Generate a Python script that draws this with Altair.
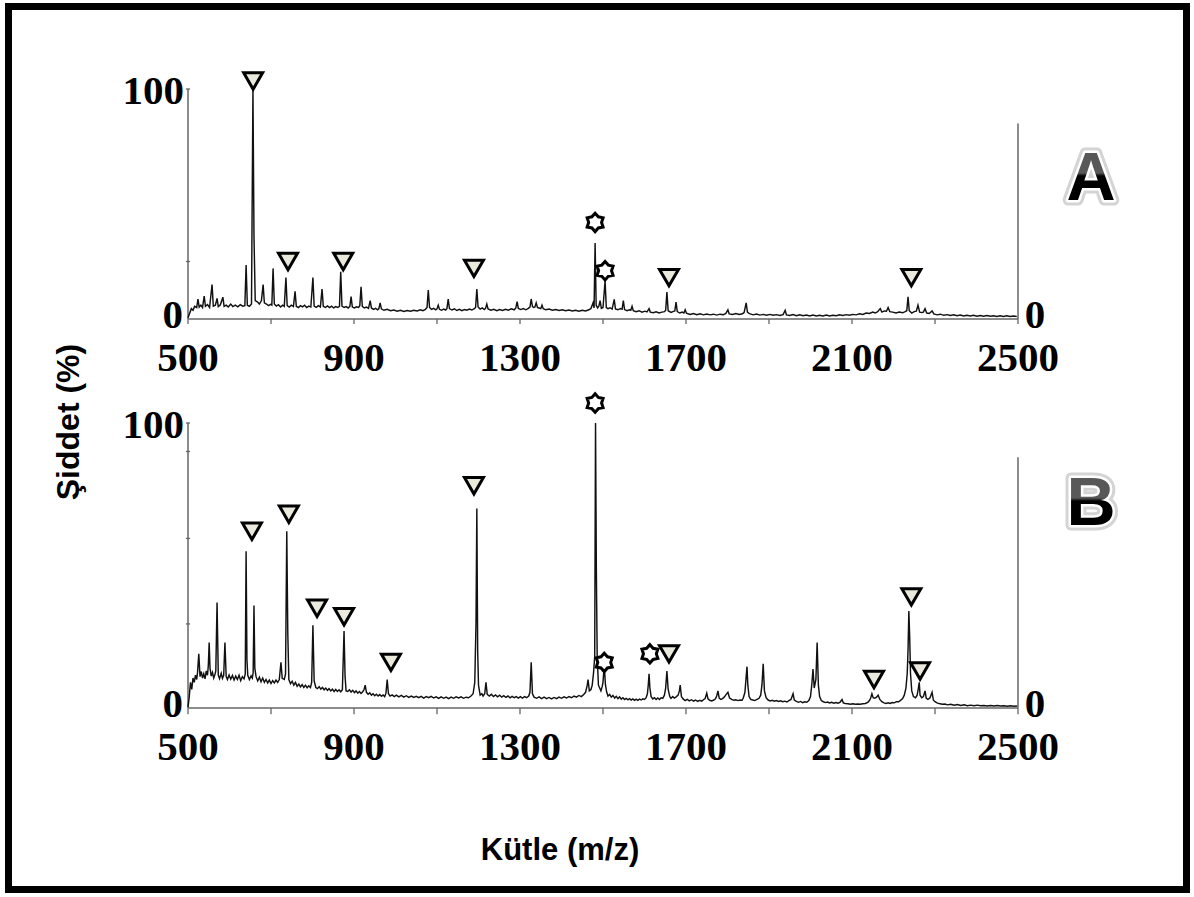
import altair as alt
import pandas as pd

# ---------------- data ----------------
# Spectrum A : (m/z, intensity %)
SPEC_A = [
    (500, 0.5), (504, 2.5), (508, 4.5), (512, 3.8), (516, 5.5), (521, 5), (524, 8.7), (527, 5.2),
    (531, 6), (535, 5), (539, 10), (542, 5.5), (547, 6.3), (552, 5), (558, 15), (561, 5.6),
    (566, 6), (570, 9), (573, 5.4), (578, 6.2), (584, 9.5), (587, 5.5), (592, 6), (597, 5.2),
    (603, 6.5), (608, 5.4), (614, 6), (620, 5.3), (626, 6.2), (632, 5.6), (637, 5.8), (640, 23.5),
    (643, 6), (648, 5.5), (653, 6.5), (656.5, 100), (657.5, 74), (659, 36), (662, 8), (667, 7.5),
    (672, 6.5), (677, 8), (681, 15), (684, 7), (689, 6.5), (694, 5.8), (699, 6.4), (702, 6),
    (705, 22), (708, 6.5), (713, 5.6), (718, 6.2), (723, 5.2), (728, 6), (732, 5.5), (736, 18),
    (739, 5.8), (744, 5.2), (749, 6), (754, 5.4), (758, 12), (761, 5.5), (766, 5), (771, 5.8),
    (776, 5.3), (781, 6), (786, 5), (791, 5.6), (796, 5.2), (801, 18), (804, 5.6), (809, 5.1),
    (814, 5.8), (819, 5.2), (823, 13), (826, 5.5), (831, 5), (836, 5.7), (841, 5), (846, 5.6),
    (851, 4.8), (856, 5.4), (861, 5), (865, 5.5), (868, 20.5), (871, 5.6), (876, 5), (881, 5.4),
    (886, 4.8), (890, 5.5), (893, 9.7), (896, 5.2), (901, 4.8), (906, 5.3), (911, 5), (914, 5.8),
    (917, 14), (920, 5.5), (925, 4.8), (930, 5.2), (935, 4.6), (939, 8), (942, 4.8), (947, 4.2),
    (952, 4.6), (957, 4.0), (960, 4.5), (963, 7), (966, 4.4), (972, 3.8), (980, 4.2), (988, 3.6),
    (996, 3.9), (1004, 3.4), (1012, 3.8), (1020, 3.3), (1028, 3.7), (1036, 3.4), (1044, 3.8),
    (1052, 3.5), (1060, 4), (1066, 3.6), (1072, 4.2), (1076, 5), (1079, 12.6), (1082, 5),
    (1087, 4.2), (1092, 4.6), (1097, 4), (1100, 4.4), (1103, 6), (1106, 4.2), (1111, 3.8),
    (1116, 4.3), (1121, 3.9), (1124, 4.6), (1127, 8.7), (1130, 4.5), (1136, 3.9), (1142, 4.4),
    (1148, 3.7), (1154, 4.2), (1160, 3.6), (1166, 4.1), (1172, 3.8), (1178, 4.3), (1184, 3.9),
    (1190, 4.5), (1193, 5), (1196, 13), (1199, 5.2), (1204, 4.3), (1209, 4.8), (1214, 4.1),
    (1217, 4.6), (1220, 6.5), (1223, 4.4), (1230, 3.8), (1237, 4.2), (1244, 3.6), (1251, 4.1),
    (1258, 3.7), (1265, 4.2), (1272, 3.8), (1279, 4.4), (1286, 4.0), (1290, 4.8), (1293, 7.5),
    (1296, 4.6), (1302, 4.1), (1308, 4.5), (1314, 4.0), (1320, 4.6), (1324, 5.2), (1327, 8.7),
    (1330, 5.4), (1333, 5), (1336, 5.2), (1339, 7), (1342, 5), (1346, 4.8), (1350, 4.5),
    (1353, 6), (1356, 4.5), (1362, 4.0), (1370, 4.3), (1378, 3.8), (1386, 4.1), (1394, 3.7),
    (1402, 4.0), (1410, 3.6), (1418, 3.9), (1426, 3.5), (1434, 3.8), (1442, 3.4), (1450, 3.8),
    (1458, 3.5), (1466, 4), (1471, 4.6), (1476, 7), (1478.5, 4.8), (1481, 33), (1483.5, 6),
    (1487, 4.8), (1490, 5.6), (1493, 8), (1496, 4.6), (1500, 5), (1505, 16.5), (1508, 5),
    (1512, 4.5), (1517, 4.9), (1522, 4.3), (1527, 8.5), (1530, 4.4), (1536, 4.0), (1542, 4.5),
    (1546, 4.2), (1549, 8), (1552, 4.1), (1558, 3.6), (1564, 4.0), (1567, 3.8), (1570, 5.5),
    (1573, 3.6), (1580, 3.2), (1587, 3.6), (1594, 3.0), (1601, 3.4), (1606, 3.1), (1611, 4.5),
    (1614, 3.0), (1621, 2.7), (1628, 3.1), (1635, 2.6), (1642, 3.0), (1648, 3.2), (1651, 3.8),
    (1654, 11.7), (1657, 3.6), (1664, 2.9), (1670, 3.3), (1673, 3.5), (1676, 7.3), (1679, 3.2),
    (1685, 2.6), (1691, 3.0), (1695, 2.6), (1698, 4), (1701, 2.5), (1710, 2.0), (1718, 2.4),
    (1726, 1.9), (1734, 2.3), (1742, 1.8), (1750, 2.2), (1758, 1.8), (1766, 2.1), (1774, 1.7),
    (1782, 2.1), (1790, 1.9), (1796, 2.4), (1801, 4), (1804, 2.2), (1812, 2.0), (1820, 2.4),
    (1828, 2.0), (1836, 2.3), (1840, 2.8), (1845, 7), (1848, 3), (1853, 2.3), (1862, 1.8),
    (1870, 2.2), (1878, 1.7), (1886, 2.0), (1894, 1.6), (1902, 2.0), (1910, 1.6), (1918, 1.9),
    (1926, 1.5), (1934, 1.9), (1939, 3.8), (1942, 1.8), (1950, 1.5), (1958, 1.9), (1966, 1.4),
    (1974, 1.8), (1982, 1.4), (1990, 1.7), (1998, 1.3), (2006, 1.7), (2014, 1.3), (2022, 1.6),
    (2030, 1.3), (2038, 1.7), (2046, 1.3), (2054, 1.6), (2062, 1.4), (2070, 1.8), (2078, 1.5),
    (2086, 1.9), (2094, 1.6), (2102, 2.0), (2110, 1.8), (2118, 2.3), (2126, 2.0), (2134, 2.6),
    (2142, 2.4), (2150, 3.0), (2156, 2.6), (2162, 3.2), (2168, 4.5), (2172, 3.0), (2178, 3.5),
    (2183, 3.4), (2187, 5), (2191, 3.2), (2198, 3.0), (2206, 2.6), (2214, 3.0), (2222, 2.7),
    (2228, 3.2), (2232, 3.6), (2235, 9.7), (2238, 3.6), (2244, 2.6), (2250, 3.2), (2255, 3.4),
    (2259, 6), (2263, 3), (2268, 2.8), (2272, 3.0), (2276, 4.5), (2280, 2.6), (2286, 2.4),
    (2293, 3.5), (2297, 2.2), (2305, 1.8), (2313, 2.1), (2321, 1.6), (2329, 1.9), (2337, 1.5),
    (2345, 1.8), (2353, 1.4), (2361, 1.7), (2369, 1.3), (2377, 1.6), (2385, 1.3), (2393, 1.6),
    (2401, 1.2), (2409, 1.5), (2417, 1.2), (2425, 1.5), (2433, 1.2), (2441, 1.4), (2449, 1.1),
    (2457, 1.4), (2465, 1.1), (2473, 1.4), (2481, 1.1), (2489, 1.3), (2497, 1.1),
]

# Spectrum B : (m/z, intensity %)
SPEC_B = [
    (500, 0.3), (503, 4), (506, 9), (509, 6.5), (512, 10.5), (515, 9), (518, 11.5), (521, 10),
    (523, 12.5), (526, 19), (529, 11), (532, 12.8), (535, 10.5), (538, 12), (541, 10.2), (544, 13),
    (547, 11.5), (549, 15), (551, 23), (553, 14), (556, 11.2), (559, 12.5), (562, 10.5), (565, 11.8),
    (567, 13), (570, 37), (573, 11.5), (576, 10.3), (580, 12.2), (583, 10.4), (586, 11.5), (589, 23),
    (592, 11), (595, 10), (599, 11.6), (603, 10.1), (607, 11.4), (611, 9.8), (615, 11.2), (619, 10),
    (623, 11.5), (627, 9.6), (631, 11), (635, 10.2), (638, 12), (640, 55), (642, 17), (644, 11.5),
    (648, 10), (652, 11.3), (655, 10.5), (657, 12.5), (659, 36), (661, 14), (664, 11), (668, 9.5),
    (672, 10.8), (676, 9.2), (680, 10.5), (684, 9), (688, 10), (692, 8.8), (696, 9.8), (700, 8.6),
    (704, 9.6), (708, 8.8), (712, 9.8), (716, 9), (720, 10), (724, 16), (727, 10.4), (732, 10),
    (735, 12), (738, 62), (740.5, 26), (743, 10), (747, 8.5), (751, 9.4), (755, 8), (759, 9),
    (763, 7.6), (767, 8.4), (771, 7.4), (775, 8.2), (779, 7.2), (783, 8), (787, 7.1), (791, 7.8),
    (795, 7.2), (798, 9), (801, 29), (804, 9.5), (808, 7.2), (812, 6.8), (816, 7.5), (820, 6.6),
    (824, 7.2), (828, 6.4), (832, 7), (836, 6.2), (840, 6.8), (844, 6), (848, 6.6), (852, 5.8),
    (856, 6.5), (860, 5.8), (864, 6.4), (868, 5.7), (872, 6.4), (876, 27), (878.5, 11), (881, 6),
    (885, 5.8), (889, 6.4), (893, 5.6), (897, 6.2), (901, 5.4), (905, 6), (909, 5.2), (913, 5.8),
    (917, 5.1), (921, 5.7), (924, 6.4), (927, 8), (930, 5.5), (934, 4.8), (938, 5.3), (942, 4.5),
    (946, 5), (950, 4.3), (954, 4.8), (958, 4.2), (962, 4.7), (966, 4.1), (970, 4.6), (974, 4.0),
    (977, 5.2), (980, 10), (983, 5), (987, 4.2), (992, 4.6), (997, 4.0), (1002, 4.5), (1008, 3.9),
    (1014, 4.4), (1020, 3.8), (1026, 4.3), (1032, 3.7), (1038, 4.2), (1044, 3.7), (1050, 4.1),
    (1056, 3.6), (1062, 4.1), (1068, 3.5), (1074, 4), (1080, 3.6), (1086, 4.1), (1092, 3.5),
    (1098, 3.9), (1104, 3.4), (1110, 3.9), (1116, 3.4), (1122, 3.8), (1128, 3.3), (1134, 3.8),
    (1140, 3.4), (1146, 3.9), (1152, 3.5), (1158, 3.9), (1164, 3.4), (1170, 3.8), (1176, 3.6),
    (1182, 4.2), (1187, 5), (1191, 9), (1194, 30), (1196, 70), (1198, 20), (1200, 8), (1204, 4.5),
    (1208, 5), (1211, 4.2), (1215, 5), (1218, 9), (1221, 4.8), (1226, 4.2), (1231, 4.8), (1236, 4),
    (1241, 4.6), (1246, 3.9), (1251, 4.5), (1256, 3.8), (1261, 4.3), (1266, 3.7), (1271, 4.2),
    (1276, 3.6), (1281, 4.1), (1286, 3.6), (1291, 4.0), (1296, 3.5), (1301, 4.0), (1306, 3.5),
    (1311, 4.0), (1316, 3.6), (1321, 4.2), (1324, 5.5), (1327, 16), (1330, 5), (1334, 3.8),
    (1340, 3.4), (1346, 3.9), (1352, 3.3), (1358, 3.8), (1364, 3.3), (1370, 3.7), (1376, 3.2),
    (1382, 3.7), (1388, 3.3), (1394, 3.8), (1400, 3.4), (1406, 3.9), (1412, 3.5), (1418, 4.0),
    (1424, 3.6), (1430, 4.2), (1436, 3.8), (1442, 4.4), (1448, 4), (1454, 4.8), (1458, 5.5),
    (1462, 8), (1464, 10), (1467, 6), (1471, 6.5), (1474, 8), (1477, 12), (1480, 18), (1482, 100),
    (1484, 48), (1486, 18), (1489, 8), (1492, 7), (1495, 6), (1498, 7.5), (1500, 9), (1503, 15),
    (1506, 8), (1509, 5.5), (1512, 4.2), (1516, 4.8), (1520, 3.8), (1524, 4.4), (1528, 3.5),
    (1532, 4.1), (1536, 3.3), (1540, 3.9), (1544, 3.1), (1548, 3.6), (1552, 3), (1556, 3.4),
    (1560, 2.9), (1564, 3.3), (1568, 2.8), (1572, 3.2), (1576, 2.7), (1580, 3.1), (1584, 2.7),
    (1588, 3.1), (1592, 2.8), (1596, 3.2), (1600, 3.0), (1604, 3.6), (1607, 5), (1609, 8),
    (1611, 12), (1613, 7), (1616, 4), (1620, 3.2), (1624, 3.6), (1628, 3.0), (1632, 3.5),
    (1636, 3.0), (1640, 3.6), (1644, 3.4), (1648, 4.5), (1651, 7), (1654, 13), (1657, 6.5),
    (1661, 4), (1664, 3.4), (1668, 4), (1672, 3.5), (1677, 4.0), (1681, 4.5), (1684, 6), (1686, 8),
    (1689, 4), (1693, 3.2), (1698, 2.6), (1703, 3.0), (1708, 2.5), (1713, 2.9), (1718, 2.4),
    (1723, 2.8), (1728, 2.3), (1733, 2.7), (1738, 2.4), (1742, 2.9), (1746, 3.3), (1750, 5.2),
    (1753, 3.2), (1757, 2.7), (1762, 2.5), (1767, 2.8), (1771, 3.2), (1774, 4.2), (1777, 6),
    (1780, 3.5), (1784, 3), (1788, 3.3), (1792, 3.8), (1796, 4.6), (1801, 5.5), (1805, 3.5),
    (1810, 3.0), (1815, 2.7), (1820, 2.9), (1825, 2.6), (1830, 2.8), (1835, 2.7), (1838, 3.5),
    (1842, 5.5), (1845, 11), (1847, 14.5), (1849, 8), (1852, 4), (1856, 3), (1861, 2.8),
    (1866, 2.6), (1871, 3.0), (1876, 3.4), (1880, 4.5), (1883, 8), (1886, 15.5), (1889, 6),
    (1893, 3.6), (1898, 2.8), (1903, 2.5), (1908, 2.7), (1913, 2.4), (1918, 2.6), (1923, 2.3),
    (1928, 2.5), (1933, 2.2), (1938, 2.4), (1943, 2.1), (1948, 2.6), (1953, 3), (1958, 5),
    (1961, 2.8), (1966, 2.3), (1971, 2.0), (1976, 2.3), (1981, 1.9), (1986, 2.2), (1991, 2.0),
    (1996, 2.6), (2000, 4), (2003, 8), (2006, 13.7), (2009, 7), (2013, 10), (2016, 23), (2019, 8),
    (2022, 4), (2026, 2.6), (2031, 2.2), (2036, 1.9), (2041, 2.1), (2046, 1.8), (2051, 2.0),
    (2056, 1.7), (2061, 1.9), (2066, 1.7), (2071, 2.0), (2076, 3), (2079, 1.8), (2084, 1.6),
    (2090, 1.5), (2096, 1.3), (2102, 1.5), (2108, 1.3), (2114, 1.4), (2120, 1.3), (2126, 1.5),
    (2132, 1.6), (2138, 2.0), (2142, 2.6), (2145, 3.5), (2148, 5), (2151, 3.6), (2155, 3.4),
    (2159, 3.8), (2163, 4.5), (2167, 3), (2172, 2.2), (2177, 1.8), (2182, 1.6), (2187, 1.8),
    (2192, 1.6), (2197, 1.9), (2202, 1.8), (2207, 2.2), (2212, 2.2), (2217, 2.7), (2222, 3.3),
    (2226, 4.5), (2230, 7), (2233, 12), (2235, 20), (2237, 34), (2239, 25), (2241, 12), (2244, 6),
    (2248, 4), (2253, 3.6), (2257, 4.5), (2260, 7), (2262, 9), (2264, 4.5), (2268, 3.6), (2272, 4),
    (2276, 6), (2279, 3.4), (2283, 3), (2288, 3.6), (2293, 5.5), (2296, 2.8), (2300, 2.2),
    (2306, 1.7), (2312, 1.5), (2318, 1.3), (2324, 1.4), (2330, 1.1), (2338, 1.3), (2346, 1.0),
    (2354, 1.2), (2362, 0.9), (2370, 1.1), (2378, 0.8), (2386, 1.0), (2394, 0.8), (2402, 1.0),
    (2410, 0.8), (2418, 0.9), (2426, 0.7), (2434, 0.9), (2442, 0.7), (2450, 0.9), (2458, 0.7),
    (2466, 0.8), (2474, 0.6), (2482, 0.8), (2490, 0.6), (2498, 0.7),
]

# annotation markers (m/z, height in %)
A_TRI_MZ = [657, 741, 874, 1189, 1659, 2243]
A_TRI_INT = [103.5, 25, 25, 22, 18, 18]
A_STAR_MZ = [1481, 1505]
A_STAR_INT = [42, 21]
B_TRI_MZ = [654, 743, 811, 876, 989, 1189, 1659, 2153, 2243, 2264]
B_TRI_INT = [62, 68, 35, 32, 16, 78, 19, 10, 39, 13]
B_STAR_MZ = [1481, 1503, 1613]
B_STAR_INT = [107, 16, 19]

X_TICKS = [500, 700, 900, 1100, 1300, 1500, 1700, 1900, 2100, 2300, 2500]
X_LABELS = [500, 900, 1300, 1700, 2100, 2500]
A_YTICKS = [25, 100]
B_YTICKS = [29.5, 59.5, 90, 100]
RIGHT_AXIS_TOP = {"A": 85, "B": 88}
X_TITLE = "Kütle (m/z)"
Y_TITLE = "Şiddet (%)"

# ---------------- scales ----------------
XS = alt.Scale(domain=[500, 2500], range=[188, 1018], nice=False, zero=False)
Y_RANGE = {"A": [319, 89], "B": [708, 423]}


def ys(p):
    return alt.Scale(domain=[0, 100], range=Y_RANGE[p], nice=False, zero=False)


def X(field="x"):
    return alt.X(f"{field}:Q", scale=XS, axis=None)


def Y(p, field="y"):
    return alt.Y(f"{field}:Q", scale=ys(p), axis=None)


AXIS_COLOR = "#666666"
SERIF = "Liberation Serif"
SANS = "Liberation Sans"
NUM_SIZE = 41
STAR = ("M0,-1L0.35,-0.606L0.866,-0.5L0.7,0L0.866,0.5L0.35,0.606L0,1"
        "L-0.35,0.606L-0.866,0.5L-0.7,0L-0.866,-0.5L-0.35,-0.606Z")

layers = []

for p, spec, tri_mz, tri_int, st_mz, st_int, yt in [
    ("A", SPEC_A, A_TRI_MZ, A_TRI_INT, A_STAR_MZ, A_STAR_INT, A_YTICKS),
    ("B", SPEC_B, B_TRI_MZ, B_TRI_INT, B_STAR_MZ, B_STAR_INT, B_YTICKS),
]:
    # axes lines
    layers.append(alt.Chart(pd.DataFrame({"x": [500], "y": [0], "y2": [100]}))
                  .mark_rule(color=AXIS_COLOR, strokeWidth=1.5)
                  .encode(x=X(), y=Y(p), y2="y2:Q"))
    layers.append(alt.Chart(pd.DataFrame({"x": [2500], "y": [0], "y2": [RIGHT_AXIS_TOP[p]]}))
                  .mark_rule(color=AXIS_COLOR, strokeWidth=1.5)
                  .encode(x=X(), y=Y(p), y2="y2:Q"))
    layers.append(alt.Chart(pd.DataFrame({"x": [500], "x2": [2500], "y": [0]}))
                  .mark_rule(color=AXIS_COLOR, strokeWidth=1.5)
                  .encode(x=X(), x2="x2:Q", y=Y(p)))
    # x ticks
    layers.append(alt.Chart(pd.DataFrame({"x": X_TICKS, "y": [0] * len(X_TICKS),
                                          "y2": [-2.2] * len(X_TICKS)}))
                  .mark_rule(color=AXIS_COLOR, strokeWidth=1.3)
                  .encode(x=X(), y=Y(p), y2="y2:Q"))
    # y ticks
    layers.append(alt.Chart(pd.DataFrame({"x": [495] * len(yt), "x2": [505] * len(yt), "y": yt}))
                  .mark_rule(color=AXIS_COLOR, strokeWidth=1.3)
                  .encode(x=X(), x2="x2:Q", y=Y(p)))
    # spectrum
    layers.append(alt.Chart(pd.DataFrame({"mz": [a for a, b in spec], "i": [b for a, b in spec]}))
                  .mark_line(color="#111111", strokeWidth=1.45, strokeJoin="miter")
                  .encode(x=X("mz"), y=Y(p, "i")))
    # markers
    layers.append(alt.Chart(pd.DataFrame({"x": tri_mz, "y": tri_int}))
                  .mark_point(shape="triangle-down", filled=True, fill="#ebe9dc", stroke="#000000",
                              strokeWidth=3, size=360, opacity=1)
                  .encode(x=X(), y=Y(p)))
    layers.append(alt.Chart(pd.DataFrame({"x": st_mz, "y": st_int}))
                  .mark_point(shape=STAR, filled=True, fill="#ffffff", stroke="#000000",
                              strokeWidth=3, size=340, opacity=1)
                  .encode(x=X(), y=Y(p)))
    # tick labels
    layers.append(alt.Chart(pd.DataFrame({"x": X_LABELS, "y": [0] * len(X_LABELS),
                                          "t": [str(v) for v in X_LABELS]}))
                  .mark_text(font=SERIF, fontWeight="bold", fontSize=NUM_SIZE, dy=40,
                             align="center", baseline="middle", color="#000")
                  .encode(x=X(), y=Y(p), text="t:N"))
    layers.append(alt.Chart(pd.DataFrame({"x": [500], "y": [100], "t": ["100"]}))
                  .mark_text(font=SERIF, fontWeight="bold", fontSize=NUM_SIZE, dx=-4, dy=3,
                             align="right", baseline="middle", color="#000")
                  .encode(x=X(), y=Y(p), text="t:N"))
    layers.append(alt.Chart(pd.DataFrame({"x": [500], "y": [0], "t": ["0"]}))
                  .mark_text(font=SERIF, fontWeight="bold", fontSize=NUM_SIZE, dx=-5, dy=-3,
                             align="right", baseline="middle", color="#000")
                  .encode(x=X(), y=Y(p), text="t:N"))
    layers.append(alt.Chart(pd.DataFrame({"x": [2500], "y": [0], "t": ["0"]}))
                  .mark_text(font=SERIF, fontWeight="bold", fontSize=NUM_SIZE, dx=17, dy=-3,
                             align="center", baseline="middle", color="#000")
                  .encode(x=X(), y=Y(p), text="t:N"))

# panel letters with glow
for letter, yy in [("A", 180), ("B", 505)]:
    df = pd.DataFrame({"t": [letter]})
    layers.append(alt.Chart(df).mark_text(font=SANS, fontWeight="bold", fontSize=68,
                                          stroke="#d4d4d4", strokeWidth=11, strokeJoin="round",
                                          fill="#d4d4d4", align="center", baseline="middle")
                  .encode(x=alt.value(1091), y=alt.value(yy), text="t:N"))
    layers.append(alt.Chart(df).mark_text(font=SANS, fontWeight="bold", fontSize=68,
                                          stroke="#ffffff", strokeWidth=5, strokeJoin="round",
                                          fill="#ffffff", align="center", baseline="middle")
                  .encode(x=alt.value(1091), y=alt.value(yy), text="t:N"))
    layers.append(alt.Chart(df).mark_text(
        font=SANS, fontWeight="bold", fontSize=68, align="center", baseline="middle",
        fill=alt.Gradient(gradient="linear", x1=0, x2=0, y1=0, y2=1,
                          stops=[alt.GradientStop(color="#585858", offset=0),
                                 alt.GradientStop(color="#585858", offset=0.46),
                                 alt.GradientStop(color="#000000", offset=0.5),
                                 alt.GradientStop(color="#000000", offset=1)]))
        .encode(x=alt.value(1091), y=alt.value(yy), text="t:N"))

# axis titles
layers.append(alt.Chart(pd.DataFrame({"t": [X_TITLE]}))
              .mark_text(font=SANS, fontWeight="bold", fontSize=31, align="center",
                         baseline="middle", color="#000")
              .encode(x=alt.value(560), y=alt.value(851), text="t:N"))
layers.append(alt.Chart(pd.DataFrame({"t": [Y_TITLE]}))
              .mark_text(font=SANS, fontWeight="bold", fontSize=32, align="center",
                         baseline="middle", angle=270, color="#000")
              .encode(x=alt.value(69), y=alt.value(422), text="t:N"))

# slide frame
layers.append(alt.Chart(pd.DataFrame({"k": [1]}))
              .mark_rect(fill=None, stroke="#000000", strokeWidth=7)
              .encode(x=alt.value(8.5), x2=alt.value(1186.5), y=alt.value(6.5), y2=alt.value(889.5)))

chart = (alt.layer(*layers)
         .resolve_scale(y="independent")
         .properties(width=1194, height=897, padding=0,
                     autosize=alt.AutoSizeParams(type="none"), background="white")
         .configure_view(stroke=None))

chart.save("out.html", embed_options={"renderer": "svg", "actions": False})
